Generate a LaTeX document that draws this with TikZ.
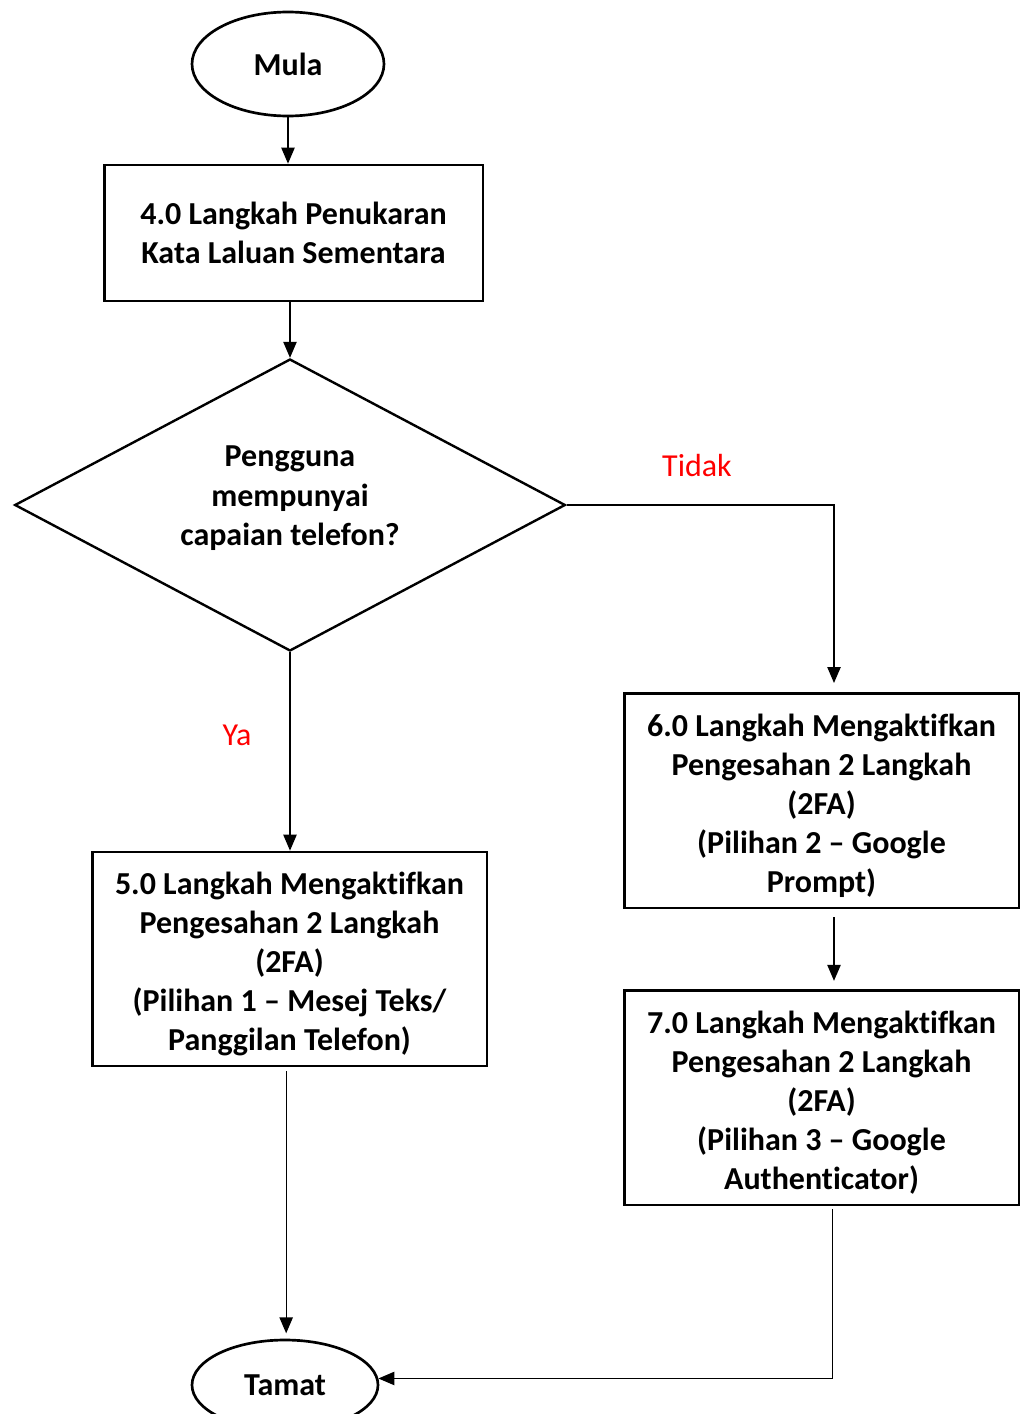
\documentclass[tikz,border=0pt]{standalone}
\usepackage{fontspec}
\setmainfont{Carlito}[Ligatures={TeX,NoCommon}]
\usetikzlibrary{shapes.geometric,arrows.meta,positioning,calc}
\tikzset{%
     terminal/.style = { ellipse, draw, line width=2pt, inner sep=0pt, font=\bfseries\fontsize{24}{29.3}\selectfont },
      process/.style = { rectangle, draw, line width=2pt, inner sep=0pt, align=center, font=\bfseries\fontsize{24}{29.3}\selectfont },
     decision/.style = { diamond, draw, line width=1.8pt, inner sep=0pt, aspect=1.89, align=center, font=\bfseries\fontsize{24}{29.3}\selectfont },
      flowarr/.style = { -{Triangle[length=12pt,width=10pt]}, line width=1pt },
       answer/.style = { red, font=\fontsize{24}{29.3}\selectfont }
}
\newcommand{\topgap}{\rule{0pt}{24.3pt}}
\newcommand{\botgap}{\rule[-14pt]{0pt}{14pt}}
\begin{document}
\begin{tikzpicture}[x=0.75pt,y=-0.75pt,line join=miter]
\useasboundingbox (0,0) rectangle (1024,1414);
% start and end
\node[terminal,minimum width=144pt,minimum height=78pt] (mula) at (288,64) {Mula};
\node[terminal,minimum width=139.5pt,minimum height=67.5pt] (tamat) at (285,1385) {Tamat};
% steps
\node[process,minimum width=284pt,minimum height=102pt] (lk4) at (293.5,233)
  {4.0 Langkah Penukaran\\Kata Laluan Sementara};
\node[decision,minimum width=413pt,minimum height=219pt] (soal) at (290,505)
  {Pengguna\\mempunyai\\capaian telefon?\botgap};
\node[process,minimum width=296pt,minimum height=160.5pt] (lk5) at (289.5,959)
  {\topgap5.0 Langkah Mengaktifkan\\Pengesahan 2 Langkah\\(2FA)\\(Pilihan 1 – Mesej Teks/\\Panggilan Telefon)};
\node[process,minimum width=296pt,minimum height=161pt] (lk6) at (821.5,800.5)
  {\topgap6.0 Langkah Mengaktifkan\\Pengesahan 2 Langkah\\(2FA)\\(Pilihan 2 – Google\\Prompt)};
\node[process,minimum width=296pt,minimum height=161pt] (lk7) at (821.5,1097.5)
  {\topgap7.0 Langkah Mengaktifkan\\Pengesahan 2 Langkah\\(2FA)\\(Pilihan 3 – Google\\Authenticator)};
\coordinate (lk6in) at (834,683);
% answers
\node[answer] (tidak) at (697,465) {Tidak};
\node[answer] (ya) at (237,735) {Ya};
% connectors
\draw[flowarr] (mula.south) -- (mula.south |- lk4.north);
\draw[flowarr] (lk4.south -| soal.north) -- (soal.north);
\draw[flowarr] (soal.east) -| (lk6in);
\draw[flowarr,shorten <=6pt,shorten >=6pt] (lk6.south -| lk6in) -- (lk7.north -| lk6in);
\draw[flowarr] (soal.south) -- (soal.south |- lk5.north);
\draw[flowarr,shorten <=3pt,shorten >=4pt] ([xshift=-2.5pt]lk5.south) -- ([xshift=-2.5pt]lk5.south |- tamat.north);
\draw[flowarr,shorten <=2pt] ([xshift=8pt]lk7.south) |- (tamat.4);
\end{tikzpicture}
\end{document}
